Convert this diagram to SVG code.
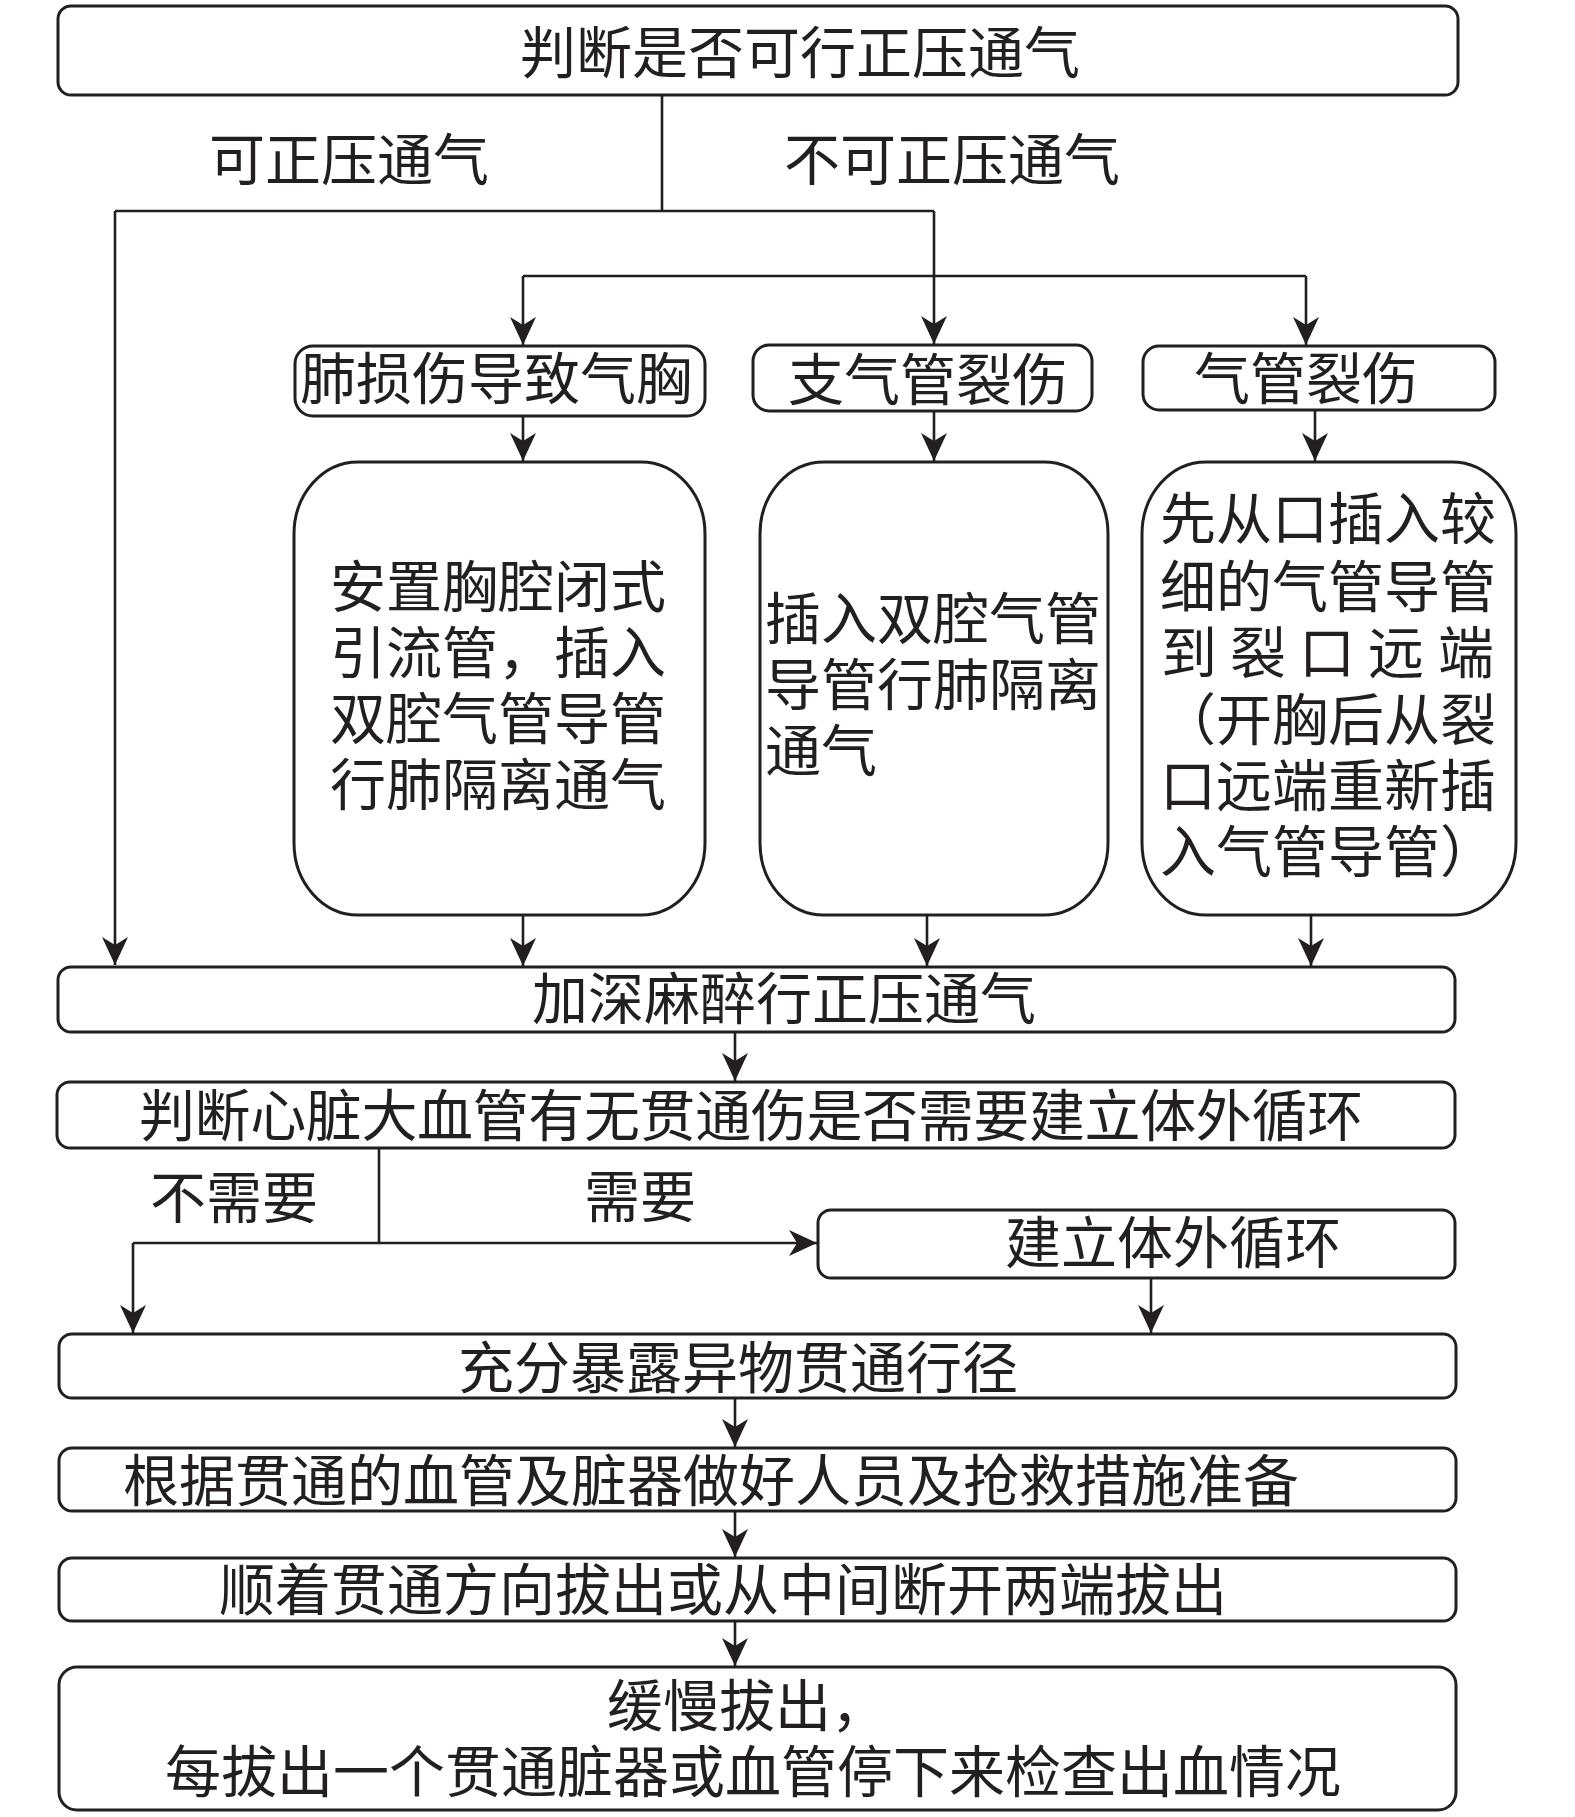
<svg xmlns="http://www.w3.org/2000/svg" width="1575" height="1817" viewBox="0 0 1575 1817">
<style>
.box{fill:#fff;stroke:#231f20;stroke-width:3}
.t{font-family:"Noto Sans CJK SC","Noto Sans CJK JP",sans-serif;font-size:56px;fill:#231f20}
.c{fill:none;stroke:#231f20;stroke-width:2.6}
</style>
<defs>
<marker id="ah" viewBox="0 0 28 26" refX="28" refY="13" markerWidth="28" markerHeight="26" orient="auto" markerUnits="userSpaceOnUse">
<path d="M0,0 L28,13 L0,26 L8,13 Z" fill="#231f20"/>
</marker>
</defs>
<rect width="1575" height="1817" fill="#fff"/>
<g id="connectors">
<path class="c" d="M662,95 V211"/>
<path class="c" d="M115,211 H934"/>
<path class="c" d="M115,211 V965" marker-end="url(#ah)"/>
<path class="c" d="M934,211 V344" marker-end="url(#ah)"/>
<path class="c" d="M523,276 H1306"/>
<path class="c" d="M523,276 V345" marker-end="url(#ah)"/>
<path class="c" d="M1306,276 V345" marker-end="url(#ah)"/>
<path class="c" d="M523,416 V461" marker-end="url(#ah)"/>
<path class="c" d="M934,411 V461" marker-end="url(#ah)"/>
<path class="c" d="M1315,410 V461" marker-end="url(#ah)"/>
<path class="c" d="M523,915 V966" marker-end="url(#ah)"/>
<path class="c" d="M927,915 V966" marker-end="url(#ah)"/>
<path class="c" d="M1311,915 V966" marker-end="url(#ah)"/>
<path class="c" d="M735,1032 V1081" marker-end="url(#ah)"/>
<path class="c" d="M379,1148 V1243"/>
<path class="c" d="M133,1243 H817" marker-end="url(#ah)"/>
<path class="c" d="M133,1243 V1333" marker-end="url(#ah)"/>
<path class="c" d="M1151,1278 V1333" marker-end="url(#ah)"/>
<path class="c" d="M735,1398 V1447" marker-end="url(#ah)"/>
<path class="c" d="M735,1511 V1557" marker-end="url(#ah)"/>
<path class="c" d="M735,1621 V1666" marker-end="url(#ah)"/>
</g>
<g id="labels">
<text class="t" x="209" y="180">可正压通气</text>
<text class="t" x="784" y="180">不可正压通气</text>
<text class="t" x="150" y="1218">不需要</text>
<text class="t" x="584" y="1217">需要</text>
</g>
<g id="n1"><rect class="box" x="58" y="6" width="1400" height="89" rx="13"/><text class="t" x="520" y="73">判断是否可行正压通气</text></g>
<g id="n2"><rect class="box" x="295" y="346" width="410" height="70" rx="18"/><text class="t" x="300" y="399">肺损伤导致气胸</text></g>
<g id="n3"><rect class="box" x="753" y="345" width="339" height="66" rx="16"/><text class="t" x="788" y="400">支气管裂伤</text></g>
<g id="n4"><rect class="box" x="1143" y="346" width="352" height="64" rx="16"/><text class="t" x="1194" y="399">气管裂伤</text></g>
<g id="n5"><rect class="box" x="294" y="462" width="411" height="453" rx="64" ry="72"/>
<text class="t" x="330" y="607">安置胸腔闭式</text>
<text class="t" x="330" y="673">引流管，插入</text>
<text class="t" x="330" y="739">双腔气管导管</text>
<text class="t" x="330" y="805">行肺隔离通气</text></g>
<g id="n6"><rect class="box" x="760" y="462" width="348" height="453" rx="64" ry="72"/>
<text class="t" x="765" y="639">插入双腔气管</text>
<text class="t" x="765" y="705">导管行肺隔离</text>
<text class="t" x="765" y="771">通气</text></g>
<g id="n7"><rect class="box" x="1142" y="462" width="374" height="453" rx="64" ry="72"/>
<text class="t" x="1160" y="539">先从口插入较</text>
<text class="t" x="1160" y="607">细的气管导管</text>
<text class="t" x="1161 1230 1299 1368 1438" y="673">到裂口远端</text>
<text class="t" x="1160" y="740">（开胸后从裂</text>
<text class="t" x="1160" y="806">口远端重新插</text>
<text class="t" x="1160" y="872">入气管导管）</text></g>
<g id="n8"><rect class="box" x="58" y="967" width="1397" height="65" rx="13"/><text class="t" x="532" y="1019">加深麻醉行正压通气</text></g>
<g id="n9"><rect class="box" x="57" y="1082" width="1398" height="66" rx="13"/><text class="t" x="139" y="1136" textLength="1224" lengthAdjust="spacing">判断心脏大血管有无贯通伤是否需要建立体外循环</text></g>
<g id="n10"><rect class="box" x="818" y="1210" width="637" height="68" rx="13"/><text class="t" x="1005" y="1263">建立体外循环</text></g>
<g id="n11"><rect class="box" x="59" y="1334" width="1397" height="64" rx="13"/><text class="t" x="458" y="1388">充分暴露异物贯通行径</text></g>
<g id="n12"><rect class="box" x="59" y="1448" width="1397" height="63" rx="13"/><text class="t" x="123" y="1501">根据贯通的血管及脏器做好人员及抢救措施准备</text></g>
<g id="n13"><rect class="box" x="59" y="1558" width="1397" height="63" rx="13"/><text class="t" x="219" y="1610">顺着贯通方向拔出或从中间断开两端拔出</text></g>
<g id="n14"><rect class="box" x="59" y="1667" width="1397" height="143" rx="18"/>
<text class="t" x="607" y="1726">缓慢拔出，</text>
<text class="t" x="165" y="1792">每拔出一个贯通脏器或血管停下来检查出血情况</text></g>
</svg>
